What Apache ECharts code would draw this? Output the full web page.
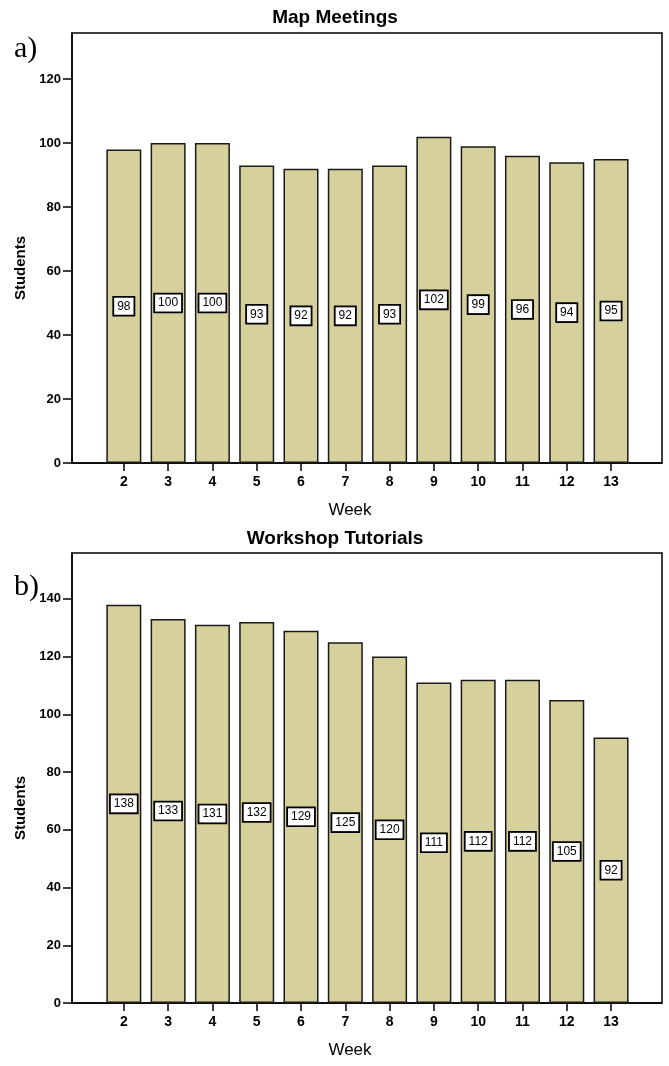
<!DOCTYPE html>
<html><head><meta charset="utf-8">
<script src="https://cdn.jsdelivr.net/npm/echarts@6/dist/echarts.min.js"></script>
<style>html,body{margin:0;padding:0;background:#fff}#c{width:669px;height:1066px}</style>
</head><body><div id="c"></div>
<script>
const weeks = [2,3,4,5,6,7,8,9,10,11,12,13];
const mapMeetings = [98,100,100,93,92,92,93,102,99,96,94,95];
const workshopTutorials = [138,133,131,132,129,125,120,111,112,112,105,92];
const yTicksA = [0,20,40,60,80,100,120];
const yTicksB = [0,20,40,60,80,100,120,140];

const FONT = "'Liberation Sans Narrow','Liberation Sans',Arial,sans-serif";
const chart = echarts.init(document.getElementById('c'));

function xAxis(gi){
  return {type:'value', gridIndex:gi, min:0.83, max:14.15,
    name:'Week', nameLocation:'middle', nameGap:39,
    nameTextStyle:{fontFamily:FONT,fontSize:17,color:'#000',padding:[0,34,0,0]},
    axisLine:{show:true,lineStyle:{color:'#000',width:1.5}},
    axisTick:{show:true,length:8,inside:false,customValues:weeks,lineStyle:{color:'#000',width:1.5}},
    axisLabel:{customValues:weeks,margin:12,fontFamily:FONT,fontSize:14,fontWeight:'bold',color:'#000'},
    splitLine:{show:false}};
}
function yAxis(gi,max,ticks){
  return {type:'value', gridIndex:gi, min:0, max:max,
    axisLine:{show:true,lineStyle:{color:'#000',width:1.5}},
    axisTick:{show:true,length:9,customValues:ticks,lineStyle:{color:'#000',width:1.5}},
    axisLabel:{customValues:ticks,margin:11,fontFamily:FONT,fontSize:13,fontWeight:'bold',color:'#000'},
    splitLine:{show:false}};
}
function series(gi,vals){
  return {type:'bar', xAxisIndex:gi, yAxisIndex:gi, barWidth:35,
    data: weeks.map((w,i)=>[w,vals[i]]),
    itemStyle:{color:'#d6d09c',borderColor:'#1a1a1a',borderWidth:1.5},
    label:{show:true,position:'inside',formatter:p=>p.value[1],
      backgroundColor:'#fff',borderColor:'#000',borderWidth:1.8,padding:[3,3,2,3],
      fontFamily:FONT,fontSize:12,color:'#000'},
    emphasis:{disabled:true}, animation:false};
}

chart.setOption({
  animation:false,
  title:[
    {text:'Map Meetings',left:330,top:3,textAlign:'center',textStyle:{fontFamily:FONT,fontSize:19,fontWeight:'bold',color:'#000'}},
    {text:'Workshop Tutorials',left:330,top:524,textAlign:'center',textStyle:{fontFamily:FONT,fontSize:19,fontWeight:'bold',color:'#000'}}
  ],
  grid:[
    {left:72,top:33,width:590,height:430,show:true,borderColor:'#000',borderWidth:1.5,backgroundColor:'#fff'},
    {left:72,top:553,width:590,height:450,show:true,borderColor:'#000',borderWidth:1.5,backgroundColor:'#fff'}
  ],
  xAxis:[xAxis(0),xAxis(1)],
  yAxis:[yAxis(0,134.4,yTicksA),yAxis(1,155.9,yTicksB)],
  series:[series(0,mapMeetings),series(1,workshopTutorials)],
  graphic:[
    {type:'text',left:14,top:34,style:{text:'a)',font:"30px 'Liberation Serif','DejaVu Serif',serif",fill:'#000'}},
    {type:'text',left:14,top:572,style:{text:'b)',font:"30px 'Liberation Serif','DejaVu Serif',serif",fill:'#000'}},
    {type:'text',x:13,y:268,rotation:Math.PI/2,style:{text:'Students',font:"bold 15px "+FONT,fill:'#000',align:'center',verticalAlign:'top'}},
    {type:'text',x:13,y:808,rotation:Math.PI/2,style:{text:'Students',font:"bold 15px "+FONT,fill:'#000',align:'center',verticalAlign:'top'}}
  ]
});
</script></body></html>
